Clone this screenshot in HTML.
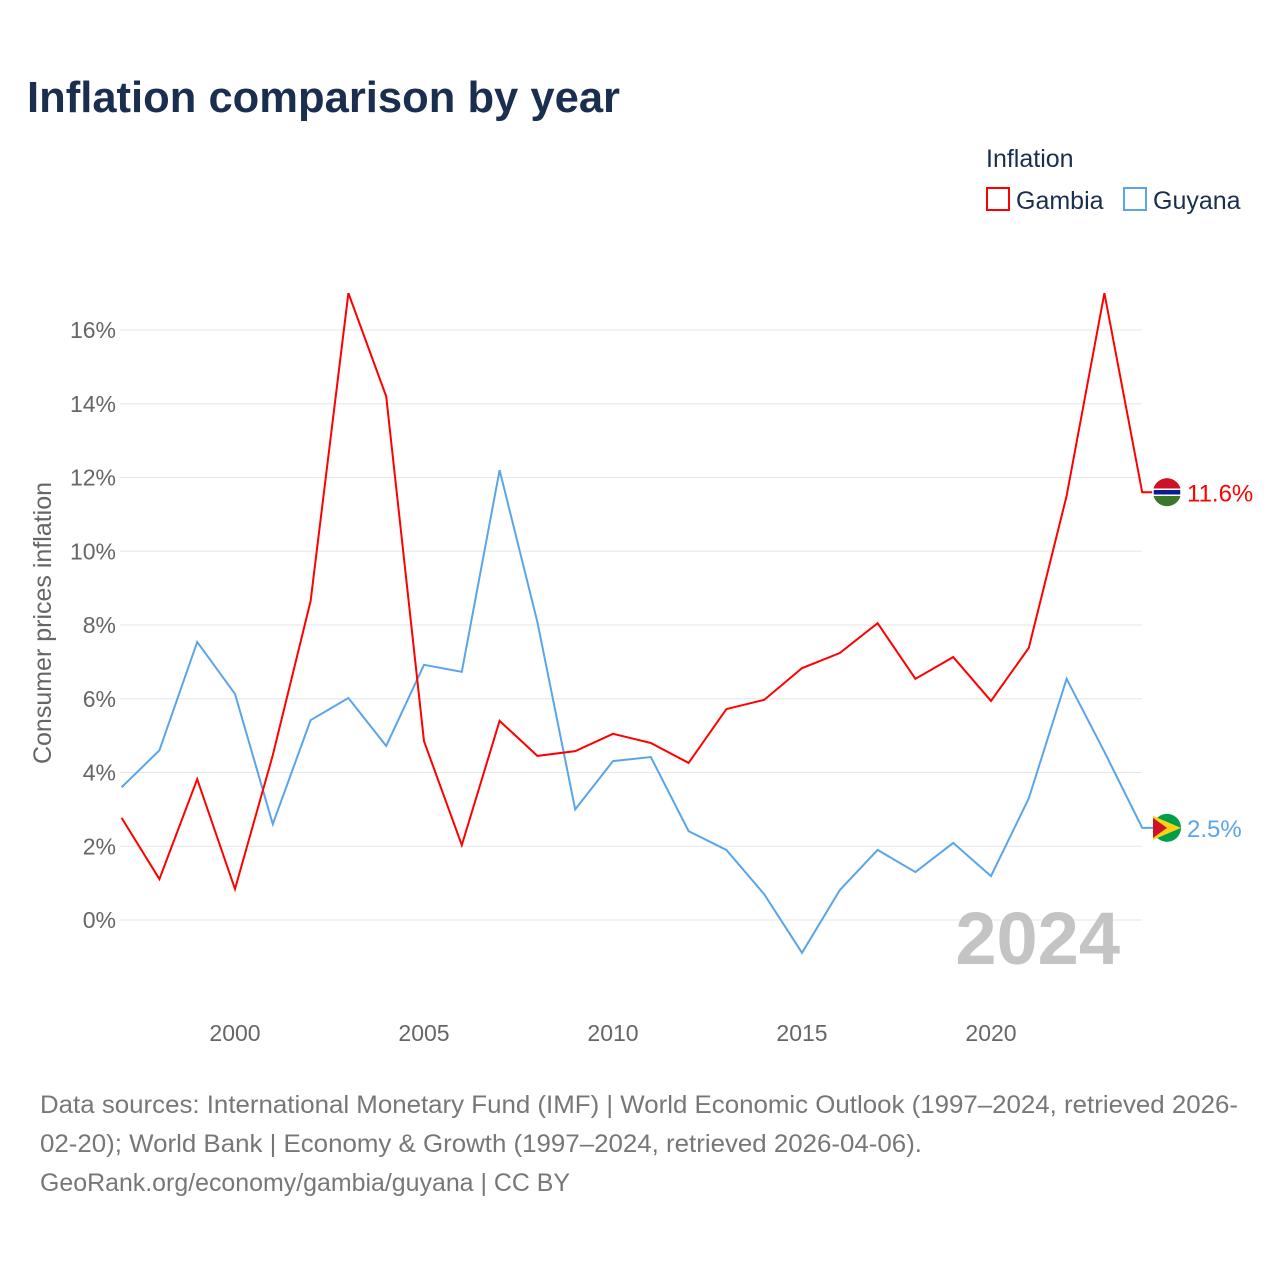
<!DOCTYPE html>
<html><head><meta charset="utf-8"><style>
body{margin:0;background:#fff;font-family:"Liberation Sans",sans-serif}
</style></head><body>
<svg id="chart" width="1280" height="1280" xmlns="http://www.w3.org/2000/svg">
<text x="27" y="112" font-size="44" font-weight="bold" fill="#1a2e4f" textLength="593" lengthAdjust="spacingAndGlyphs">Inflation comparison by year</text>
<text x="986" y="167" font-size="25" fill="#1a2e4f">Inflation</text>
<g><rect x="987" y="188" width="22" height="22" fill="none" stroke="#f00" stroke-width="2"/><text x="1016" y="209" font-size="25" fill="#1a2e4f">Gambia</text></g>
<g><rect x="1124" y="188" width="22" height="22" fill="none" stroke="#5aa5e8" stroke-width="2"/><text x="1153" y="209" font-size="25" fill="#1a2e4f">Guyana</text></g>
<text transform="translate(51,623) rotate(-90)" text-anchor="middle" font-size="25" fill="#666">Consumer prices inflation</text>
<g id="grid"></g><g id="xt"></g>
<text x="1120" y="964" text-anchor="end" font-size="74" font-weight="bold" fill="#c4c4c4">2024</text>
<g id="lines"></g>
<text x="40" y="1113" font-size="25" fill="#777" textLength="1198" lengthAdjust="spacingAndGlyphs">Data sources: International Monetary Fund (IMF) | World Economic Outlook (1997–2024, retrieved 2026-</text>
<text x="40" y="1152" font-size="25" fill="#777" textLength="882" lengthAdjust="spacingAndGlyphs">02-20); World Bank | Economy &amp; Growth (1997–2024, retrieved 2026-04-06).</text>
<text x="40" y="1191" font-size="25" fill="#777" textLength="530" lengthAdjust="spacingAndGlyphs">GeoRank.org/economy/gambia/guyana | CC BY</text>
</svg>
<script>
const years=[1997,1998,1999,2000,2001,2002,2003,2004,2005,2006,2007,2008,2009,2010,2011,2012,2013,2014,2015,2016,2017,2018,2019,2020,2021,2022,2023,2024];
const gambia=[2.77,1.11,3.82,0.84,4.47,8.65,17.0,14.2,4.85,2.03,5.4,4.45,4.58,5.05,4.8,4.26,5.72,5.97,6.83,7.24,8.05,6.54,7.13,5.94,7.38,11.5,17.0,11.6];
const guyana=[3.6,4.6,7.54,6.13,2.6,5.42,6.02,4.72,6.92,6.73,12.2,8.08,3.0,4.31,4.42,2.41,1.9,0.7,-0.89,0.81,1.9,1.3,2.09,1.19,3.3,6.54,4.56,2.5];
const yTicks=[0,2,4,6,8,10,12,14,16];
const xTicks=[2000,2005,2010,2015,2020];
const NS="http://www.w3.org/2000/svg";
const X=v=>235+(v-2000)*37.8, Y=v=>920-v*36.875;
function mk(t,a,p){const e=document.createElementNS(NS,t);for(const k in a)e.setAttribute(k,a[k]);p.appendChild(e);return e;}
const grid=document.getElementById('grid'),xt=document.getElementById('xt'),lines=document.getElementById('lines');
yTicks.forEach(v=>{
 const l=mk('line',{x1:120,x2:1142,y1:Y(v),y2:Y(v),stroke:'#e6e6e6','stroke-width':1},grid);
 
 
 const t=mk('text',{x:116,y:Y(v)+8,'text-anchor':'end','font-size':23,fill:'#666'},grid);t.textContent=v+'%';
 
 
});
xTicks.forEach(v=>{
 const t=mk('text',{x:X(v),y:1041,'text-anchor':'middle','font-size':23,fill:'#666'},xt);t.textContent=v;
 
 
});
function series(d,c,name,lbl){
 let p=d.map((v,i)=>(i?'L':'M')+X(years[i])+','+Y(v)).join(' ');
 const last=d[d.length-1];p+=' L'+(X(2024)+14)+','+Y(last);
 const e=mk('path',{d:p,fill:'none',stroke:c,'stroke-width':2},lines);
 
 
 const cx=1167,cy=Y(last);
 const g=mk('g',{},lines);
 
 
 if(name==='gambia'){
  mk('circle',{cx,cy,r:14,fill:'#3a7728'},g);
  mk('path',{d:`M${cx-14},${cy} A14,14 0 0 1 ${cx+14},${cy} Z`,fill:'#ce1126'},g);
  mk('rect',{x:cx-14,y:cy-3,width:28,height:6,fill:'#0c1c8c',stroke:'#fff','stroke-width':1.5},g);
 }else{
  mk('circle',{cx,cy,r:14,fill:'#009e49'},g);
  mk('path',{d:`M${cx-14},${cy-12} L${cx+14},${cy} L${cx-14},${cy+12}Z`,fill:'#fcd116'},g);
  mk('path',{d:`M${cx-14},${cy-10} L${cx},${cy} L${cx-14},${cy+10}Z`,fill:'#ce1126'},g);
 }
 const t=mk('text',{x:1187,y:cy+9,'font-size':24,fill:c},lines);t.textContent=lbl(last);
 
 
}
series(guyana,'#5aa5e8','guyana',v=>v.toFixed(1)+'%');
series(gambia,'#f00','gambia',v=>v.toFixed(1)+'%');
</script>
</body></html>
